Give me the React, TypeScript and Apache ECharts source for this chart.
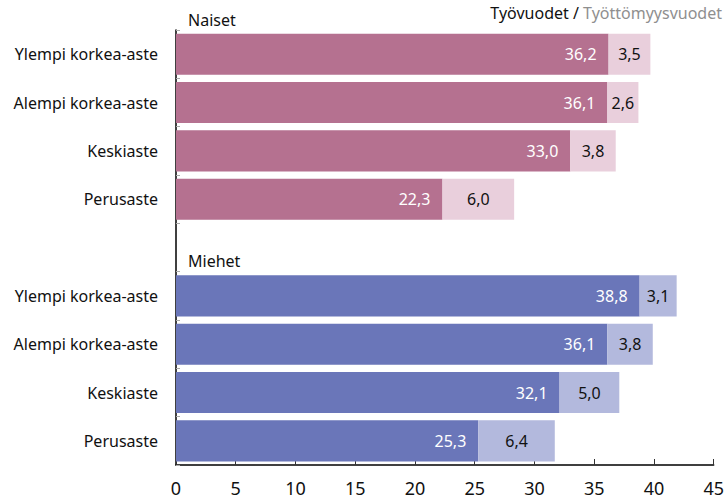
import React, { useEffect, useRef } from "react";
import * as echarts from "echarts";

const groups = ["Naiset", "Miehet"];
const educationLevels = ["Ylempi korkea-aste", "Alempi korkea-aste", "Keskiaste", "Perusaste"];
const naisetWork = [36.2, 36.1, 33.0, 22.3];
const naisetUnemp = [3.5, 2.6, 3.8, 6.0];
const miehetWork = [38.8, 36.1, 32.1, 25.3];
const miehetUnemp = [3.1, 3.8, 5.0, 6.4];
const xTicks = [0, 5, 10, 15, 20, 25, 30, 35, 40, 45];

const COLORS = {
  naisetDark: "#B57190",
  naisetLight: "#E9CFDC",
  miehetDark: "#6A76B9",
  miehetLight: "#B3B9DD",
};

const FONT = "'Noto Sans', 'Open Sans', sans-serif";

export default function App() {
  const ref = useRef<HTMLDivElement>(null);

  useEffect(() => {
    if (!ref.current) return;
    document.body.style.margin = "0";
    const chart = echarts.init(ref.current, undefined, { renderer: "svg" });

    const keys: string[] = [];
    const labels: Record<string, string> = {};
    const work: any[] = [];
    const unemp: any[] = [];
    educationLevels.forEach((lvl, i) => {
      const k = "N" + i;
      keys.push(k);
      labels[k] = lvl;
      work.push({ value: naisetWork[i], itemStyle: { color: COLORS.naisetDark } });
      unemp.push({ value: naisetUnemp[i], itemStyle: { color: COLORS.naisetLight } });
    });
    keys.push("gap");
    labels["gap"] = "";
    work.push("-");
    unemp.push("-");
    educationLevels.forEach((lvl, i) => {
      const k = "M" + i;
      keys.push(k);
      labels[k] = lvl;
      work.push({ value: miehetWork[i], itemStyle: { color: COLORS.miehetDark } });
      unemp.push({ value: miehetUnemp[i], itemStyle: { color: COLORS.miehetLight } });
    });

    const fmt = (v: number) => v.toFixed(1).replace(".", ",");

    chart.setOption({
      animation: false,
      textStyle: { fontFamily: FONT },
      grid: { left: 176, right: 12, top: 30, bottom: 35, containLabel: false },
      xAxis: {
        type: "value",
        min: xTicks[0],
        max: xTicks[xTicks.length - 1],
        interval: xTicks[1] - xTicks[0],
        axisLine: { show: true, lineStyle: { color: "#000", width: 1.5 } },
        axisTick: { show: true, inside: true, length: 6, lineStyle: { color: "#333" } },
        splitLine: { show: false },
        axisLabel: { fontSize: 18, color: "#111", margin: 14, fontFamily: FONT },
      },
      yAxis: {
        type: "category",
        inverse: true,
        data: keys,
        axisLine: { show: true, lineStyle: { color: "#000", width: 1.5 } },
        axisTick: { show: true, inside: true, length: 4, lineStyle: { color: "#aaa" } },
        axisLabel: {
          fontSize: 16,
          color: "#111",
          margin: 18,
          fontFamily: FONT,
          formatter: (v: string) => labels[v] ?? "",
        },
      },
      graphic: [
        {
          type: "text",
          right: 5,
          top: 5,
          style: {
            text: "{a|Työvuodet / }{b|Työttömyysvuodet}",
            rich: {
              a: { fontSize: 16, fill: "#111", fontFamily: FONT },
              b: { fontSize: 16, fill: "#8f8f8f", fontFamily: FONT },
            },
          },
        },
        {
          type: "text",
          left: 188,
          top: 12,
          style: { text: groups[0], fontSize: 16, fill: "#111", fontFamily: FONT },
        },
        {
          type: "text",
          left: 188,
          top: 253,
          style: { text: groups[1], fontSize: 16, fill: "#111", fontFamily: FONT },
        },
      ],
      series: [
        {
          type: "bar",
          stack: "total",
          barWidth: "85%",
          data: work,
          label: {
            show: true,
            position: "insideRight",
            distance: 12,
            color: "#fff",
            fontSize: 16,
            fontFamily: FONT,
            formatter: (p: any) => fmt(p.value),
          },
        },
        {
          type: "bar",
          stack: "total",
          barWidth: "85%",
          data: unemp,
          label: {
            show: true,
            position: "inside",
            color: "#111",
            fontSize: 16,
            fontFamily: FONT,
            formatter: (p: any) => fmt(p.value),
          },
        },
      ],
    });

    return () => chart.dispose();
  }, []);

  return <div ref={ref} style={{ width: 727, height: 500 }} />;
}
